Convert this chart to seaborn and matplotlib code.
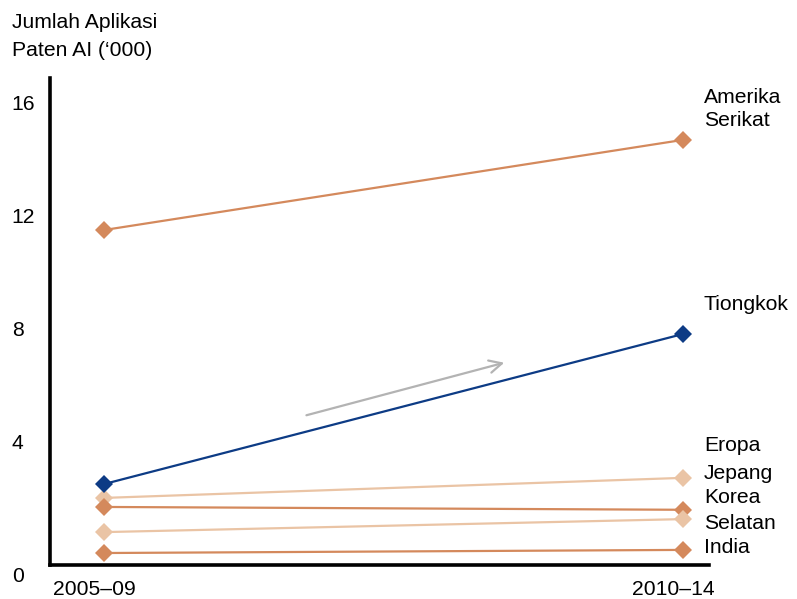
import matplotlib
matplotlib.use("Agg")
import matplotlib.pyplot as plt
import matplotlib.transforms as mtransforms
import numpy as np
import pandas as pd
import seaborn as sns

# --- data (thousands of AI patent applications) ---
periods = ["2005–09", "2010–14"]
regions = ["Amerika Serikat", "Eropa", "Jepang", "Korea Selatan", "India", "Tiongkok"]
us_vals = [11.50, 14.69]
europe_vals = [2.02, 2.73]
japan_vals = [1.70, 1.60]
korea_vals = [0.81, 1.27]
india_vals = [0.07, 0.18]
china_vals = [2.51, 7.82]
y_ticks = [0, 4, 8, 12, 16]
y_title = ["Jumlah Aplikasi", "Paten AI (‘000)"]

series = [us_vals, europe_vals, japan_vals, korea_vals, india_vals, china_vals]
df = pd.DataFrame(
    [(r, i, v) for r, vals in zip(regions, series) for i, v in enumerate(vals)],
    columns=["region", "period", "value"],
)

# --- styling ---
dark_orange = "#D4895C"
light_orange = "#EAC4A5"
navy = "#0D3B85"
palette = {
    "Amerika Serikat": dark_orange,
    "Eropa": light_orange,
    "Jepang": dark_orange,
    "Korea Selatan": light_orange,
    "India": dark_orange,
    "Tiongkok": navy,
}

sns.set_style("white")
plt.rcParams["font.family"] = ["Liberation Sans", "DejaVu Sans"]
plt.rcParams["text.color"] = "black"
plt.rcParams["xtick.color"] = "black"
plt.rcParams["ytick.color"] = "black"
plt.rcParams["xtick.labelcolor"] = "black"
plt.rcParams["ytick.labelcolor"] = "black"
FS = 15.2

fig = plt.figure(figsize=(7.97, 5.99), dpi=100)
ax = fig.add_axes([50 / 797, 1 - 565 / 599, (709 - 50) / 797, (565 - 78) / 599])

sns.lineplot(
    data=df, x="period", y="value", hue="region", palette=palette,
    hue_order=regions, marker="D", markersize=9.5, markeredgewidth=0,
    linewidth=1.6, legend=False, ax=ax,
)
# keep the China line on top
for line in ax.lines:
    if line.get_color() == navy:
        line.set_zorder(5)

# trend arrow
ax.annotate(
    "", xy=(0.696, 6.83), xytext=(0.345, 4.92),
    arrowprops=dict(arrowstyle="->,head_length=0.9,head_width=0.45",
                    color="#B3B3B3", lw=1.6),
)

ax.set_xlim(-0.0933, 1.045)
ax.set_ylim(-0.354, 16.88)

# axes spines
for side in ["top", "right"]:
    ax.spines[side].set_visible(False)
for side in ["left", "bottom"]:
    ax.spines[side].set_linewidth(2.6)
    ax.spines[side].set_color("black")

# y ticks: labels left-aligned at the figure edge
ax.set_yticks(y_ticks)
ax.set_yticklabels([str(t) for t in y_ticks], fontsize=FS)
ax.tick_params(axis="y", length=0, pad=27.5)
for lab in ax.get_yticklabels():
    lab.set_horizontalalignment("left")
    if lab.get_text() == "0":
        lab.set_transform(lab.get_transform()
                          + mtransforms.ScaledTranslation(0, -20 / 100, fig.dpi_scale_trans))

# x ticks
ax.set_xticks([0, 1])
ax.set_xticklabels(periods, fontsize=FS)
ax.tick_params(axis="x", length=0, pad=10.5)
for lab in ax.get_xticklabels():
    lab.set_transform(lab.get_transform()
                      + mtransforms.ScaledTranslation(-9.5 / 100, 0, fig.dpi_scale_trans))
ax.set_xlabel("")
ax.set_ylabel("")

# axis title, one line at a time
for line_txt, ypx in zip(y_title, [22, 50]):
    fig.text(12 / 797, 1 - ypx / 599, line_txt, fontsize=FS, ha="left",
             va="center", color="black")

# end-of-line labels
label_x = 1.036
label_pos = [
    ("Amerika", 16.19),
    ("Serikat", 15.38),
    ("Tiongkok", 8.85),
    ("Eropa", 3.86),
    ("Jepang", 2.87),
    ("Korea", 2.02),
    ("Selatan", 1.13),
    ("India", 0.25),
]
for text, y in label_pos:
    ax.text(label_x, y, text, fontsize=FS, ha="left", va="center",
            clip_on=False, color="black")

fig.savefig("out.png", dpi=100)
